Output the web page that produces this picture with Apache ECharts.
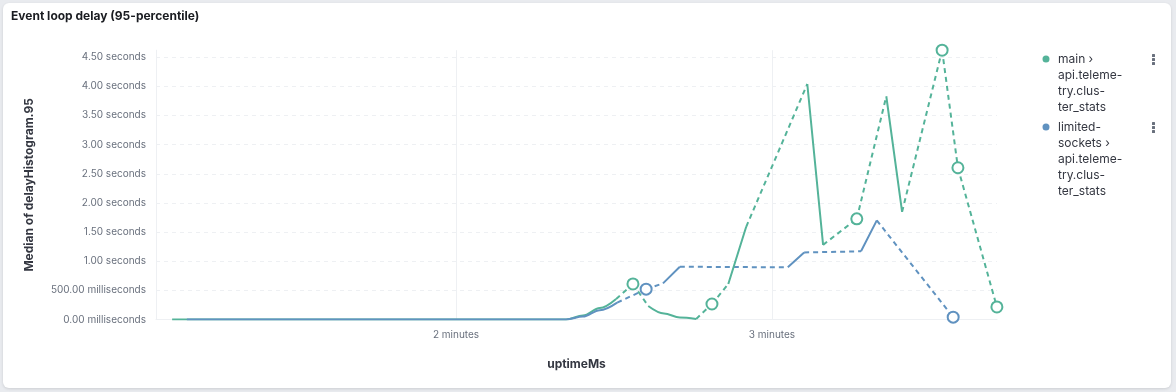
<!DOCTYPE html>
<html>
<head>
<meta charset="utf-8">
<script src="https://cdn.jsdelivr.net/npm/echarts@6/dist/echarts.min.js"></script>
<style>
  html, body { margin: 0; padding: 0; width: 1176px; height: 392px; background: #e9ebef; overflow: hidden; }
  #panel { position: absolute; left: 3px; top: 3px; width: 1168px; height: 385px; background: #fff; border-radius: 6px; box-shadow: 0 1px 3px rgba(0,0,0,0.12); }
  #chart { position: absolute; left: 0; top: 0; width: 1176px; height: 392px; }
</style>
</head>
<body>
<div id="panel"></div>
<div id="chart"></div>
<script>
// ---- data (x: uptimeMs, y: delay in ms; null = gap in the data) ----
const mainName = 'main › api.telemetry.cluster_stats';
const socketsName = 'limited-sockets › api.telemetry.cluster_stats';
const mainLegendLines = ['main ›', 'api.teleme-', 'try.clus-', 'ter_stats'];
const socketsLegendLines = ['limited-', 'sockets ›', 'api.teleme-', 'try.clus-', 'ter_stats'];

const mainUptimeMs = [66100, 76000, 86000, 96000, 106000, 116000, 126000, 136000, 140900, 144100, 147300, 150400, 152000, 153600, 155000, 156500, 159500, 162500, 165600, 167100, 168600, 170100, 171700, 175100, 181000, 186700, 189700, 193000, 196100, 199000, 201700, 204700, 208500, 212300, 213800, 215300, 219000, 222700];
const mainDelayMs  = [0, 0, 0, 0, 0, 0, 0, 0, 0, 69, 198, 352, null, 610, null, 232, 103, 34, 9, null, 266, null, 610, 1590, null, 4040, 1280, null, 1727, null, 3830, 1847, null, 4620, null, 2603, null, 215];

const socketsUptimeMs = [68900, 78000, 88000, 98000, 108000, 118000, 128000, 138000, 140900, 144100, 147300, 150600, 153000, 156100, 157500, 159300, 162500, 172000, 183000, 186100, 191000, 196900, 199900, 207000, 214400];
const socketsDelayMs  = [0, 0, 0, 0, 0, 0, 0, 0, 0, 50, 160, 290, null, 520, null, 620, 905, null, 895, 1150, null, 1170, 1700, null, 40];

const yTickValues = [0, 500, 1000, 1500, 2000, 2500, 3000, 3500, 4000, 4500];
const yTickLabels = ['0.00 milliseconds', '500.00 milliseconds', '1.00 seconds', '1.50 seconds', '2.00 seconds', '2.50 seconds', '3.00 seconds', '3.50 seconds', '4.00 seconds', '4.50 seconds'];
const xTickValues = [120000, 180000];
const xTickLabels = ['2 minutes', '3 minutes'];

const GREEN = '#54B399';
const BLUE = '#6092C0';

// ---- build series pieces from the arrays ----
function solidData(xs, ys) {
  return xs.map((x, i) => [x, ys[i] == null ? '-' : ys[i]]);
}
function gapData(xs, ys) {
  const out = [];
  let prev = -1;
  for (let i = 0; i < xs.length; i++) {
    if (ys[i] == null) continue;
    if (prev >= 0 && i - prev > 1) {
      if (out.length) out.push([(xs[prev] + xs[i]) / 2, '-']);
      out.push([xs[prev], ys[prev]]);
      out.push([xs[i], ys[i]]);
    }
    prev = i;
  }
  return out;
}
function isolatedData(xs, ys) {
  const out = [];
  for (let i = 0; i < xs.length; i++) {
    if (ys[i] == null) continue;
    const pNull = i === 0 || ys[i - 1] == null;
    const nNull = i === xs.length - 1 || ys[i + 1] == null;
    if (pNull && nNull) out.push([xs[i], ys[i]]);
  }
  return out;
}
function seriesFor(name, color, xs, ys) {
  return [
    { name, type: 'line', data: gapData(xs, ys), connectNulls: false, symbol: 'none', silent: true,
      itemStyle: { color }, lineStyle: { color, width: 2, type: [5, 4] }, z: 2 },
    { name, type: 'line', data: solidData(xs, ys), connectNulls: false, symbol: 'none',
      smooth: 0.35, smoothMonotone: 'x',
      itemStyle: { color }, lineStyle: { color, width: 2 }, z: 3 },
    { name, type: 'scatter', data: isolatedData(xs, ys), symbol: 'circle', symbolSize: 11,
      itemStyle: { color: '#ffffff', borderColor: color, borderWidth: 2, opacity: 1 }, z: 4 }
  ];
}

// legend icon: dot aligned with the first text line (thin invisible strips set the icon box height)
function legendIcon(h) {
  return 'path://M0,0 L14,0 L14,0.01 L0,0.01 Z M7,4.5 A3.5,3.5 0 1,1 7,11.5 A3.5,3.5 0 1,1 7,4.5 Z M0,' + (h - 0.01) + ' L14,' + (h - 0.01) + ' L14,' + h + ' L0,' + h + ' Z';
}

const chart = echarts.init(document.getElementById('chart'), null, { renderer: 'canvas' });
const FONT = 'Inter, "Noto Sans", sans-serif';

function dots(x, y) {
  return [0, 1, 2].map(k => ({
    type: 'rect', shape: { x: x, y: y + k * 4, width: 3, height: 3, r: 0.5 },
    style: { fill: '#69707d' }, silent: true
  }));
}

const legendText = { fontFamily: FONT, fontSize: 12, lineHeight: 16, color: '#343741' };

chart.setOption({
  animation: false,
  textStyle: { fontFamily: FONT },
  title: {
    text: 'Event loop delay (95-percentile)', left: 11, top: 10, padding: 0,
    textStyle: { fontFamily: FONT, fontSize: 12, fontWeight: 700, color: '#1a1c21' }
  },
  legend: [
    { data: [mainName], orient: 'vertical', left: 1039, top: 51, padding: 0,
      icon: legendIcon(64), itemWidth: 14, itemHeight: 64,
      formatter: () => mainLegendLines.join('\n'), textStyle: legendText },
    { data: [socketsName], orient: 'vertical', left: 1039, top: 119, padding: 0,
      icon: legendIcon(80), itemWidth: 14, itemHeight: 80,
      formatter: () => socketsLegendLines.join('\n'), textStyle: legendText }
  ],
  grid: { left: 156, right: 179, top: 50.2, bottom: 72.5, containLabel: false, outerBoundsMode: 'none' },
  xAxis: {
    type: 'value', min: 63040, max: 222720,
    name: 'uptimeMs', nameLocation: 'middle', nameGap: 39,
    nameTextStyle: { fontFamily: FONT, fontSize: 12, fontWeight: 700, color: '#343741' },
    axisLine: { show: true, lineStyle: { color: '#eef0f3', width: 1 } },
    axisTick: { show: false, customValues: xTickValues },
    axisLabel: { customValues: xTickValues, margin: 10, fontFamily: FONT, fontSize: 10, color: '#69707d',
      formatter: v => xTickLabels[xTickValues.indexOf(v)] },
    splitLine: { show: true, lineStyle: { color: '#eef0f3', width: 1, type: 'solid' } }
  },
  yAxis: {
    type: 'value', min: 0, max: 4620,
    name: 'Median of delayHistogram.95', nameLocation: 'middle', nameGap: 121, nameRotate: 90,
    nameMoveOverlap: false,
    nameTextStyle: { fontFamily: FONT, fontSize: 12, fontWeight: 700, color: '#343741' },
    axisLine: { show: true, lineStyle: { color: '#eef0f3', width: 1 } },
    axisTick: { show: false, customValues: yTickValues },
    axisLabel: { customValues: yTickValues, margin: 10, fontFamily: FONT, fontSize: 10, color: '#69707d',
      formatter: v => yTickLabels[yTickValues.indexOf(v)] },
    splitLine: { show: true, lineStyle: { color: '#eef0f3', width: 1, type: [4, 4] } }
  },
  graphic: [].concat(dots(1152, 54), dots(1152, 122)),
  series: [].concat(
    seriesFor(mainName, GREEN, mainUptimeMs, mainDelayMs),
    seriesFor(socketsName, BLUE, socketsUptimeMs, socketsDelayMs)
  )
});
</script>
</body>
</html>
